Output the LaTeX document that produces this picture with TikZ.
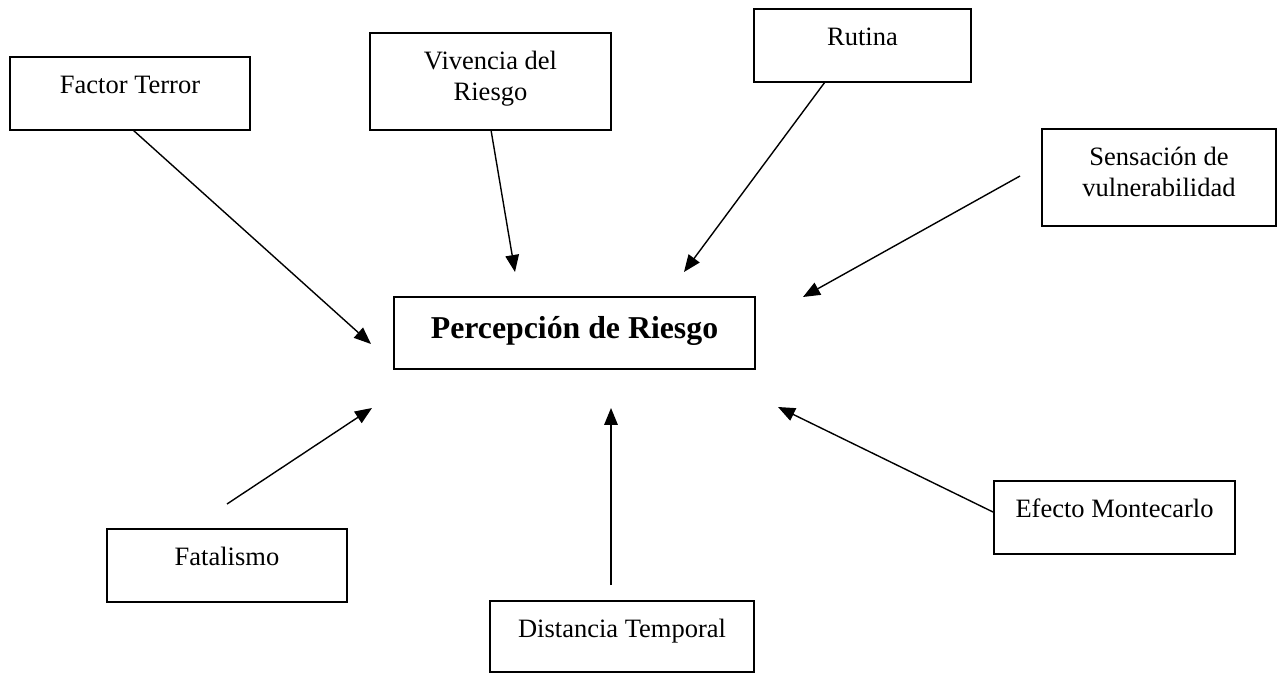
\documentclass[tikz,border=0pt]{standalone}
\usepackage{fontspec}
\setmainfont{Liberation Serif}
\usetikzlibrary{arrows.meta}
\begin{document}
\begin{tikzpicture}[x=0.5pt,y=-0.5pt,
  boxA/.style={draw, line width=0.85pt, inner sep=0pt, anchor=north,
    text height=18.5pt, font=\fontsize{13.25}{15.5}\selectfont},
  one/.style={text depth=18pt},
  two/.style={text depth=30pt},
  arr/.style={line width=0.7pt, -{Triangle[length=8.5pt,width=6.8pt]}}]
\useasboundingbox (0,0) rectangle (1285,673);
% boxes
\node[boxA, one, minimum width=120pt] (ft) at (130,56) {Factor Terror};
\node[boxA, two, minimum width=120.5pt] (vr) at (490.5,32)
  {\begin{tabular}[t]{@{}c@{}}Vivencia del\\Riesgo\end{tabular}};
\node[boxA, one, minimum width=108.5pt] (ru) at (862.5,8) {Rutina};
\node[boxA, two, minimum width=117pt] (sv) at (1159,128)
  {\begin{tabular}[t]{@{}c@{}}Sensación de\\vulnerabilidad\end{tabular}};
\node[draw, line width=0.85pt, inner sep=0pt, anchor=north, minimum width=180.5pt,
  text height=21pt, text depth=15pt, font=\fontsize{15.9}{19}\selectfont\bfseries]
  (pr) at (574.5,296) {Percepción de Riesgo};
\node[boxA, one, minimum width=120pt] (fa) at (227,528) {Fatalismo};
\node[boxA, one, minimum width=120.5pt] (em) at (1114.5,480) {Efecto Montecarlo};
\node[boxA, text depth=17.2pt, minimum width=132pt] (dt) at (622,600) {Distancia Temporal};
% arrow ends
\coordinate (a1s) at (133,130);  \coordinate (a1e) at (371,344);
\coordinate (a2s) at (491,130);  \coordinate (a2e) at (515,272);
\coordinate (a3s) at (825,82);   \coordinate (a3e) at (684,272);
\coordinate (a4s) at (1020,176); \coordinate (a4e) at (803,297);
\coordinate (a5s) at (227,504);  \coordinate (a5e) at (372,408);
\coordinate (a6s) at (611,585);  \coordinate (a6e) at (611,408);
\coordinate (a7s) at (993,512);  \coordinate (a7e) at (778,407);
\draw[arr] (a1s) -- (a1e);
\draw[arr] (a2s) -- (a2e);
\draw[arr] (a3s) -- (a3e);
\draw[arr] (a4s) -- (a4e);
\draw[arr] (a5s) -- (a5e);
\draw[arr] (a6s) -- (a6e);
\draw[arr] (a7s) -- (a7e);
\end{tikzpicture}
\end{document}
